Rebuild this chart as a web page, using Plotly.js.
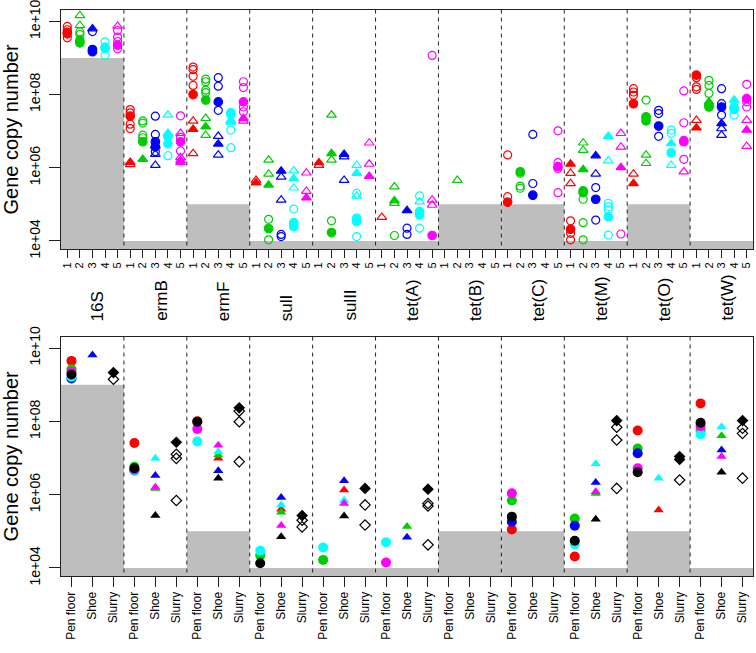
<!DOCTYPE html>
<html><head><meta charset="utf-8">
<script src="https://cdn.plot.ly/plotly-3.0.1.min.js"></script>
<style>body{margin:0;background:#fff}</style>
</head><body><div id="chart" style="width:756px;height:653px"></div>
<script>
// ---------------- data ----------------
const genes = ["16S","ermB","ermF","sulI","sulII","tet(A)","tet(B)","tet(C)","tet(M)","tet(O)","tet(W)"];
const detectionLimit = [1e9,1e4,1e5,1e4,1e4,1e4,1e5,1e5,1e4,1e5,1e4];
const topTickLabels = ["1","2","3","4","5"];
const bottomTickLabels = ["Pen floor","Shoe","Slurry"];
const yTickValues = [1e4,1e6,1e8,1e10];
const yTickLabels = ["1e+04","1e+06","1e+08","1e+10"];

// Top panel: [farm 1-5, sample code, log10 gene copies]
// sample code: F1 = floor (filled), F2 = floor (open), S1 = shoe (filled), S2 = shoe (open)
const top_16S = [[1,"F2",9.86],[1,"F2",9.77],[1,"F1",9.70],[1,"F1",9.66],[1,"F2",9.55],
 [2,"S2",10.16],[2,"S2",9.89],[2,"F2",9.71],[2,"F2",9.64],[2,"F1",9.48],[2,"F1",9.41],
 [3,"F2",9.72],[3,"S1",9.80],[3,"F2",9.20],[3,"F1",9.23],[3,"F1",9.17],
 [4,"F2",9.44],[4,"F2",9.30],[4,"F1",9.27],[4,"F2",9.07],
 [5,"S2",9.87],[5,"F2",9.75],[5,"F2",9.57],[5,"F2",9.45],[5,"F1",9.35],[5,"F2",9.25]];
const top_ermB = [[1,"F2",7.59],[1,"F2",7.50],[1,"F1",7.41],[1,"F2",7.19],[1,"F2",7.07],[1,"S1",6.15],[1,"S2",6.09],
 [2,"F2",7.28],[2,"F2",7.22],[2,"F2",6.89],[2,"F2",6.82],[2,"F1",6.71],[2,"S1",6.23],
 [3,"F2",7.41],[3,"F2",6.91],[3,"F1",6.71],[3,"S1",6.60],[3,"F1",6.57],[3,"F2",6.44],[3,"S2",6.37],[3,"S2",6.07],
 [4,"S2",7.44],[4,"S1",6.94],[4,"F1",6.85],[4,"F1",6.66],[4,"F2",6.33],
 [5,"F2",7.42],[5,"S2",6.94],[5,"F2",6.83],[5,"F1",6.71],[5,"F2",6.46],[5,"S2",6.28],[5,"S1",6.20],[5,"S1",6.14]];
const top_ermF = [[1,"F2",8.75],[1,"F2",8.68],[1,"F2",8.50],[1,"F2",8.25],[1,"F1",8.00],[1,"S2",7.28],[1,"S1",7.05],[1,"S2",6.39],
 [2,"F2",8.42],[2,"F2",8.35],[2,"F2",8.12],[2,"F2",8.05],[2,"F1",7.85],[2,"S2",7.35],[2,"S1",7.12],[2,"S2",6.89],
 [3,"F2",8.46],[3,"F2",8.23],[3,"F1",7.80],[3,"F2",7.57],[3,"S2",6.86],[3,"S1",6.65],[3,"S2",6.35],
 [4,"F1",7.50],[4,"F2",7.45],[4,"S2",7.30],[4,"S1",7.25],[4,"F2",7.03],[4,"F2",6.55],
 [5,"F2",8.35],[5,"F2",8.19],[5,"F1",7.80],[5,"F2",7.66],[5,"F2",7.53],[5,"S1",7.35],[5,"S2",7.28]];
const top_sulI = [[1,"S2",5.66],[1,"S1",5.59],
 [2,"S2",6.21],[2,"S2",5.83],[2,"S1",5.53],[2,"F2",4.59],[2,"F1",4.34],[2,"F2",4.03],
 [3,"S1",5.91],[3,"S2",5.75],[3,"S2",5.12],[3,"F2",4.18],[3,"F2",4.12],
 [4,"S2",5.92],[4,"S1",5.71],[4,"S2",5.45],[4,"F2",4.87],[4,"F1",4.50],[4,"F2",4.42],[4,"F1",4.39],
 [5,"S2",5.86],[5,"S2",5.36],[5,"S1",5.18]];
const top_sulII = [[1,"S2",6.07],[1,"S1",6.14],
 [2,"S2",7.44],[2,"S1",6.39],[2,"S2",6.21],[2,"F2",4.55],[2,"F1",4.23],
 [3,"S1",6.37],[3,"S2",6.30],[3,"S2",5.66],
 [4,"S2",6.07],[4,"S1",5.85],[4,"F2",5.30],[4,"S2",5.23],[4,"F1",4.62],[4,"F1",4.53],[4,"F2",4.12],
 [5,"S2",6.68],[5,"S2",6.10],[5,"S1",5.77]];
const top_tetA = [[1,"S2",4.65],
 [2,"S2",5.48],[2,"S1",5.10],[2,"S2",5.03],[2,"F2",4.15],
 [3,"S1",4.83],[3,"F2",4.35],[3,"F2",4.18],
 [4,"F2",5.23],[4,"S2",5.07],[4,"F1",4.80],[4,"F1",4.71],[4,"F2",4.35],
 [5,"F2",9.07],[5,"S2",5.12],[5,"S2",4.98],[5,"F1",4.15]];
const top_tetB = [[2,"S2",5.66]];
const top_tetC = [[1,"F2",6.35],[1,"F2",5.21],[1,"F1",5.06],
 [2,"F2",5.85],[2,"F1",5.89],[2,"F2",5.50],[2,"F2",5.44],
 [3,"F2",6.91],[3,"F2",5.57],[3,"F1",5.25],
 [5,"F2",7.01],[5,"F2",6.14],[5,"F1",6.03],[5,"F2",5.98],[5,"F2",5.32]];
const top_tetM = [[1,"S1",6.10],[1,"S2",5.85],[1,"S2",5.57],[1,"F2",4.55],[1,"F1",4.32],[1,"F2",4.21],[1,"F2",4.03],
 [2,"S2",6.68],[2,"S2",6.48],[2,"S1",5.95],[2,"F1",5.37],[2,"F1",5.32],[2,"F2",5.14],[2,"F2",4.50],[2,"F2",4.03],
 [3,"S1",6.33],[3,"S2",5.83],[3,"F2",5.46],[3,"F1",5.14],[3,"F2",4.57],
 [4,"S1",6.86],[4,"S2",6.19],[4,"F2",5.03],[4,"F2",4.94],[4,"F2",4.85],[4,"F1",4.66],[4,"F2",4.16],
 [5,"S2",6.94],[5,"S2",6.57],[5,"S1",6.01],[5,"F2",4.19]];
const top_tetO = [[1,"F2",8.16],[1,"F2",8.07],[1,"F2",7.98],[1,"F1",7.75],[1,"S2",5.83],[1,"S1",5.57],
 [2,"F2",7.85],[2,"F2",7.40],[2,"F1",7.37],[2,"F1",7.28],[2,"S2",6.35],[2,"S2",6.12],
 [3,"F2",7.57],[3,"F2",7.48],[3,"F1",7.14],[3,"F2",6.86],
 [4,"F2",7.03],[4,"F2",6.94],[4,"S1",6.66],[4,"F1",6.41],[4,"S2",6.07],
 [5,"F2",8.10],[5,"F2",7.23],[5,"F2",6.75],[5,"F1",6.71],[5,"F2",6.23],[5,"S2",5.89]];
const top_tetW = [[1,"F2",8.46],[1,"F1",8.53],[1,"F2",8.21],[1,"F2",8.14],[1,"S2",7.30],[1,"S1",7.09],
 [2,"F2",8.39],[2,"F2",8.25],[2,"F2",8.03],[2,"S1",7.80],[2,"F1",7.70],[2,"F1",7.66],
 [3,"F2",8.16],[3,"F2",7.75],[3,"F1",7.66],[3,"F2",7.44],[3,"S1",7.21],[3,"S2",7.07],[3,"S2",6.89],
 [4,"S1",7.85],[4,"S1",7.70],[4,"F2",7.66],[4,"F1",7.60],[4,"F2",7.44],
 [5,"F2",8.28],[5,"F1",7.89],[5,"F2",7.80],[5,"F2",7.66],[5,"S2",7.30],[5,"S1",7.03],[5,"S2",6.59]];

// Bottom panel: [site 1-3 (Pen floor, Shoe, Slurry), series 1-7, log10 gene copies]
// series 1-5 = farms, 6 = pooled (filled), 7 = individual slurry (open)
const bot_16S = [[1,1,9.65],[1,2,9.42],[1,3,9.17],[1,4,9.22],[1,5,9.35],[1,6,9.28],[2,3,9.81],[3,7,9.15],[3,6,9.33]];
const bot_ermB = [[1,1,7.41],[1,4,6.67],[1,3,6.66],[1,5,6.69],[1,2,6.76],[1,6,6.72],[2,4,6.99],[2,3,6.52],[2,2,6.17],[2,5,6.20],[2,6,5.43],[3,7,7.10],[3,7,6.99],[3,7,5.84],[3,6,7.43]];
const bot_ermF = [[1,1,8.00],[1,5,7.79],[1,4,7.45],[1,6,7.99],[2,5,7.35],[2,4,7.17],[2,2,7.08],[2,1,6.99],[2,3,6.65],[2,6,6.45],[3,7,8.28],[3,7,7.99],[3,7,6.90],[3,6,8.37]];
const bot_sulI = [[1,4,4.47],[1,2,4.34],[1,6,4.13],[2,3,5.92],[2,4,5.72],[2,1,5.60],[2,2,5.52],[2,5,5.16],[2,6,4.85],[3,7,5.30],[3,7,5.12],[3,6,5.43]];
const bot_sulII = [[1,4,4.56],[1,2,4.22],[2,3,6.38],[2,1,6.13],[2,4,5.85],[2,5,5.76],[2,6,5.42],[3,7,5.72],[3,7,5.17],[3,6,6.17]];
const bot_tetA = [[1,4,4.70],[1,5,4.15],[2,2,5.13],[2,3,4.84],[3,7,5.76],[3,7,5.69],[3,7,4.63],[3,6,6.15]];
const bot_tetB = [];
const bot_tetC = [[1,5,6.04],[1,2,5.84],[1,3,5.26],[1,1,5.05],[1,6,5.40]];
const bot_tetM = [[1,2,5.35],[1,3,5.15],[1,4,4.65],[1,1,4.31],[1,6,4.74],[2,4,6.84],[2,3,6.33],[2,2,6.03],[2,5,6.08],[2,6,5.33],[3,7,7.84],[3,7,7.49],[3,7,6.17],[3,6,8.02]];
const bot_tetO = [[1,1,7.75],[1,2,7.26],[1,3,7.13],[1,5,6.72],[1,6,6.61],[2,4,6.45],[2,1,5.58],[3,7,6.40],[3,6,7.04],[3,6,6.96]];
const bot_tetW = [[1,1,8.49],[1,2,7.76],[1,4,7.65],[1,5,7.87],[1,6,7.96],[2,4,7.85],[2,2,7.61],[2,3,7.22],[2,5,7.04],[2,6,6.61],[3,7,7.81],[3,7,7.67],[3,7,6.45],[3,6,8.02]];

const topData = [top_16S,top_ermB,top_ermF,top_sulI,top_sulII,top_tetA,top_tetB,top_tetC,top_tetM,top_tetO,top_tetW];
const botData = [bot_16S,bot_ermB,bot_ermF,bot_sulI,bot_sulII,bot_tetA,bot_tetB,bot_tetC,bot_tetM,bot_tetO,bot_tetW];

// ---------------- styling ----------------
const farmColors = ["#FF0000","#00CD00","#0000FF","#00FFFF","#FF00FF","#000000","#000000"];
const GRAY = "#BEBEBE";
const FONT = "Liberation Sans, Arial, Helvetica, sans-serif";
const nT = topTickLabels.length, nB = bottomTickLabels.length, nG = genes.length;

const traces = [];
// detection-limit shading
function shade(xa, ya, per){
  detectionLimit.forEach((L,g)=>{
    const x0 = per*g+0.5, x1 = per*g+per+0.5;
    traces.push({type:"scatter",mode:"lines",xaxis:xa,yaxis:ya,x:[x0,x1,x1,x0,x0],y:[1e3,1e3,L,L,1e3],
      fill:"toself",fillcolor:GRAY,line:{width:0,color:GRAY},hoverinfo:"skip",showlegend:false});
  });
}
shade("x","y",nT); shade("x2","y2",nB);
// dashed separators
function seps(xa, ya, per){
  const xs=[], ys=[];
  for(let g=1; g<nG; g++){ xs.push(per*g+0.5, per*g+0.5, null); ys.push(1e3, 1e11, null); }
  traces.push({type:"scatter",mode:"lines",xaxis:xa,yaxis:ya,x:xs,y:ys,
    line:{color:"#222",width:1,dash:"4px,4px"},hoverinfo:"skip",showlegend:false});
}
seps("x","y",nT); seps("x2","y2",nB);

// top panel points
const topStyle = {
  F2:{symbol:"circle-open",size:8}, S2:{symbol:"triangle-up-open",size:8.5},
  F1:{symbol:"circle",size:8.5}, S1:{symbol:"triangle-up",size:8.5}
};
["F2","S2","F1","S1"].forEach(code=>{
  for(let p=1;p<=5;p++){
    const xs=[], ys=[];
    topData.forEach((arr,g)=>arr.forEach(([pos,c,v])=>{ if(pos===p && c===code){ xs.push(nT*g+pos); ys.push(Math.pow(10,v)); } }));
    if(!xs.length) continue;
    traces.push({type:"scatter",mode:"markers",xaxis:"x",yaxis:"y",x:xs,y:ys,showlegend:false,cliponaxis:false,
      marker:{symbol:topStyle[code].symbol,size:topStyle[code].size,color:farmColors[p-1],line:{width:1.2,color:farmColors[p-1]}}});
  }
});

// bottom panel points
const siteSymbol = ["circle","triangle-up","diamond"];
const siteSize = [10,9,9];
for(let s=1;s<=7;s++){
  for(let site=1; site<=3; site++){
    const xs=[], ys=[];
    botData.forEach((arr,g)=>arr.forEach(([st,ser,v])=>{ if(st===site && ser===s){ xs.push(nB*g+st); ys.push(Math.pow(10,v)); } }));
    if(!xs.length) continue;
    const open = s===7;
    traces.push({type:"scatter",mode:"markers",xaxis:"x2",yaxis:"y2",x:xs,y:ys,showlegend:false,cliponaxis:false,
      marker:{symbol:siteSymbol[site-1]+(open?"-open":""),size:siteSize[site-1]-(open?1:0),color:farmColors[s-1],
        line:{width:open?1.2:0,color:farmColors[s-1]}}});
  }
}

const topTickVals=[], topTickText=[];
for(let g=0; g<nG; g++) for(let i=0;i<nT;i++){ topTickVals.push(nT*g+i+1); topTickText.push(topTickLabels[i]); }
const botTickVals=[], botTickText=[];
for(let g=0; g<nG; g++) for(let i=0;i<nB;i++){ botTickVals.push(nB*g+i+1); botTickText.push(bottomTickLabels[i]); }

const axBase = {showgrid:false,zeroline:false,showline:true,mirror:true,linecolor:"#222",linewidth:1,ticks:"outside",tickcolor:"#222",fixedrange:true,ticklabeloverflow:"allow"};
const yBase = Object.assign({},axBase,{type:"log",range:[3.78,10.31],tickvals:yTickValues,ticktext:yTickLabels,tickangle:-90,ticklen:11,
  ticklabelstandoff:3,tickfont:{size:14,color:"#000"},title:{text:"Gene copy number",font:{size:20,color:"#000"},standoff:8}});

const layout = {
  width:756,height:653,paper_bgcolor:"#fff",plot_bgcolor:"#fff",
  font:{family:FONT,color:"#000"},
  margin:{l:61,r:3,t:10,b:77},showlegend:false,
  xaxis:Object.assign({},axBase,{domain:[0,1],anchor:"y",range:[0.5,nT*nG+0.5],tickvals:topTickVals,ticktext:topTickText,tickangle:-90,ticklen:8,tickfont:{size:11}}),
  yaxis:Object.assign({},yBase,{domain:[0.5777,1],anchor:"x"}),
  xaxis2:Object.assign({},axBase,{domain:[0,1],anchor:"y2",range:[0.5,nB*nG+0.5],tickvals:botTickVals,ticktext:botTickText,tickangle:-90,ticklen:10,tickfont:{size:12}}),
  yaxis2:Object.assign({},yBase,{domain:[0,0.4228],anchor:"x2"}),
  annotations: genes.map((name,g)=>({xref:"x2",yref:"paper",x:nB*g+2,y:0.447,xshift:6,text:name,textangle:-90,
    showarrow:false,xanchor:"center",yanchor:"bottom",font:{size:17,color:"#000"}}))
};

Plotly.newPlot("chart",traces,layout,{staticPlot:true,displayModeBar:false});
</script>
</body></html>
